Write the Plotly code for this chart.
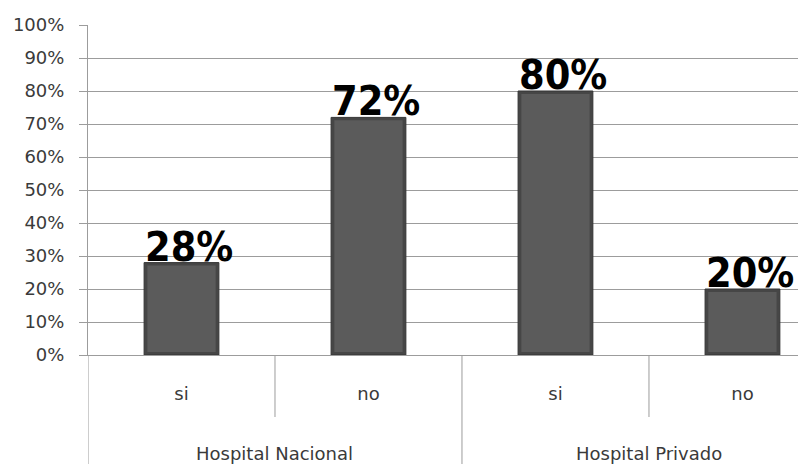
import plotly.graph_objects as go

# Survey answers per hospital type
groups = ["Hospital Nacional", "Hospital Privado"]
answers = ["si", "no", "si", "no"]
percentages = [28, 72, 80, 20]
y_ticks = list(range(0, 101, 10))
y_tick_labels = [f"{v}%" for v in y_ticks]

positions = list(range(len(answers)))
AXIS_GRAY = "#9c9c9c"
TEXT_GRAY = "#3a3a3a"

# Outer bar gives the dark bevelled rim, inner bar the lighter face
rim = 0.9
fig = go.Figure()
fig.add_trace(
    go.Bar(
        x=positions,
        y=percentages,
        width=0.4,
        marker=dict(color="#464646", line=dict(color="#353535", width=1)),
        hoverinfo="skip",
    )
)
fig.add_trace(
    go.Bar(
        x=positions,
        y=[v - 2 * rim for v in percentages],
        base=rim,
        width=0.365,
        marker=dict(color="#5b5b5b", line=dict(width=0)),
        hoverinfo="skip",
    )
)

# Plot area spans y pixels 25..355 (height 330)
plot_h = 330.0

annotations = []
for pos, val in zip(positions, percentages):
    annotations.append(
        dict(
            x=pos, y=val, xref="x", yref="y",
            text=f"<b>{val}%</b>",
            showarrow=False,
            xanchor="center", yanchor="bottom",
            xshift=8, yshift=-10,
            font=dict(family="DejaVu Sans Condensed, DejaVu Sans", size=41, color="black"),
        )
    )

# Group labels centred under each pair of bars
for i, name in enumerate(groups):
    annotations.append(
        dict(
            x=2 * i + 0.5, y=(355 - 453) / plot_h, xref="x", yref="paper",
            text=name, showarrow=False,
            xanchor="center", yanchor="middle",
            font=dict(family="DejaVu Sans", size=18, color=TEXT_GRAY),
        )
    )

# Category dividers below the axis
shapes = []
full_bottom = (355 - 464) / plot_h
short_bottom = (355 - 417) / plot_h
for xpos, bottom in [(-0.5, full_bottom), (0.5, short_bottom), (1.5, full_bottom), (2.5, short_bottom)]:
    shapes.append(
        dict(type="line", xref="x", yref="paper", x0=xpos, x1=xpos, y0=0, y1=bottom,
             line=dict(color=AXIS_GRAY, width=1))
    )

fig.update_layout(
    width=798, height=464,
    margin=dict(l=88, r=0, t=25, b=109),
    plot_bgcolor="white", paper_bgcolor="white",
    showlegend=False,
    barmode="overlay",
    annotations=annotations,
    shapes=shapes,
    xaxis=dict(
        range=[-0.5, 3.297],
        tickmode="array", tickvals=positions, ticktext=answers,
        ticks="", showgrid=False, zeroline=False,
        showline=True, linecolor=AXIS_GRAY, linewidth=1,
        tickfont=dict(family="DejaVu Sans", size=18, color=TEXT_GRAY),
        ticklabelstandoff=22,
    ),
    yaxis=dict(
        range=[0, 100],
        tickmode="array", tickvals=y_ticks, ticktext=y_tick_labels,
        ticks="outside", ticklen=8, tickcolor=AXIS_GRAY, tickwidth=1,
        showgrid=True, gridcolor=AXIS_GRAY, gridwidth=1,
        zeroline=False,
        showline=True, linecolor=AXIS_GRAY, linewidth=1,
        tickfont=dict(family="DejaVu Sans", size=18, color=TEXT_GRAY),
        ticklabelstandoff=11,
    ),
)

fig.write_html("out.html")
